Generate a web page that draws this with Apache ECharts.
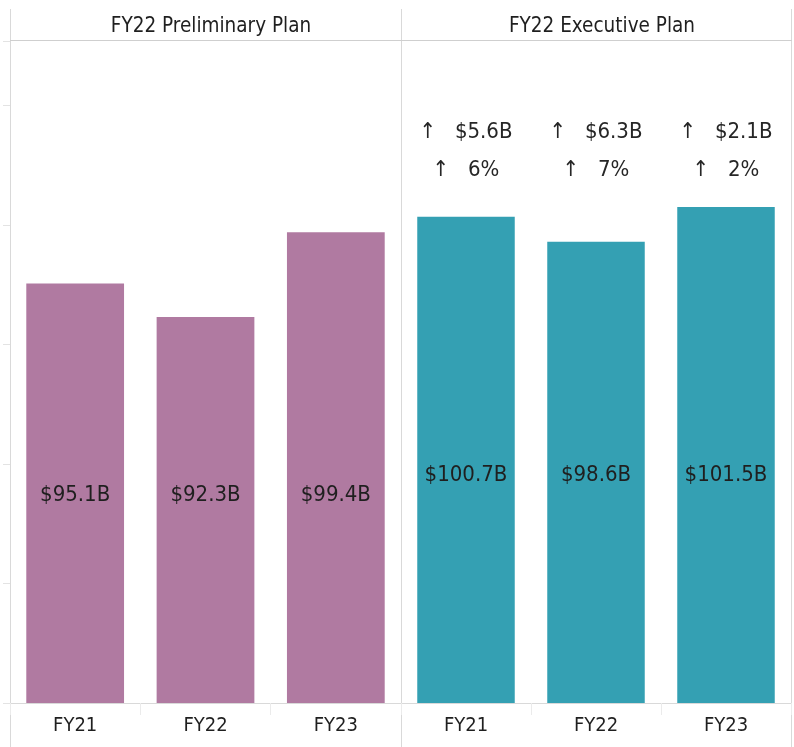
<!DOCTYPE html>
<html>
<head>
<meta charset="utf-8">
<script src="https://cdn.jsdelivr.net/npm/echarts@6/dist/echarts.min.js"></script>
<style>
  body { margin: 0; background: #fff; }
  #chart { width: 794px; height: 747px; }
</style>
</head>
<body>
<div id="chart"></div>
<script>
// data
const categories = ['FY21', 'FY22', 'FY23'];
const prelimValues = [95.1, 92.3, 99.4];
const execValues = [100.7, 98.6, 101.5];
const changeAmt = ['$5.6B', '$6.3B', '$2.1B'];
const changePct = ['6%', '7%', '2%'];
const panelTitles = ['FY22 Preliminary Plan', 'FY22 Executive Plan'];

const FONT = "'Liberation Sans Narrow', 'DejaVu Sans Condensed', sans-serif";
const TEXT = '#1f1f1f';
const LINE = '#d9d9d9';
const Y_MIN = 60, Y_MAX = 115.4, ANNO_LEVEL = 106.2;

let myChart = echarts.init(document.getElementById('chart'));

function xAxisFor(idx) {
    return {
        type: 'category',
        gridIndex: idx,
        data: categories,
        axisLine: { lineStyle: { color: LINE } },
        axisTick: { show: true, length: 12, lineStyle: { color: '#ebebeb' } },
        axisLabel: { color: TEXT, fontFamily: FONT, fontSize: 20, margin: 13 }
    };
}

let option = {
    animation: false,
    title: panelTitles.map((t, i) => ({
        text: t,
        left: i === 0 ? 206 : 597,
        top: 11,
        textAlign: 'center',
        textStyle: { fontFamily: FONT, fontSize: 20.5, fontWeight: 'normal', color: TEXT }
    })),
    grid: [
        { left: 10, right: 393, top: 41, bottom: 44 },
        { left: 401, right: 3, top: 41, bottom: 44 }
    ],
    xAxis: [xAxisFor(0), xAxisFor(1)],
    yAxis: [
        {
            type: 'value', gridIndex: 0, min: Y_MIN, max: Y_MAX, interval: 10,
            axisLine: { show: false },
            axisTick: { show: true, length: 7, lineStyle: { color: '#e3e3e3' } },
            axisLabel: { show: false },
            splitLine: { show: false }
        },
        {
            type: 'value', gridIndex: 1, min: Y_MIN, max: Y_MAX, show: false,
            splitLine: { show: false }
        }
    ],
    series: [
        {
            type: 'bar',
            xAxisIndex: 0, yAxisIndex: 0,
            data: prelimValues,
            barWidth: '75%',
            itemStyle: { color: '#b07aa1' },
            label: {
                show: true, position: 'insideBottom', distance: 197,
                formatter: p => '$' + p.value + 'B',
                fontFamily: FONT, fontSize: 22, color: TEXT
            }
        },
        {
            type: 'bar',
            xAxisIndex: 1, yAxisIndex: 1,
            data: execValues,
            barWidth: '75%',
            itemStyle: { color: '#34a0b3' },
            label: {
                show: true, position: 'insideBottom', distance: 217,
                formatter: p => '$' + p.value + 'B',
                fontFamily: FONT, fontSize: 22, color: TEXT
            }
        },
        {
            type: 'scatter',
            xAxisIndex: 1, yAxisIndex: 1,
            symbolSize: 0,
            silent: true,
            itemStyle: { opacity: 1 },
            data: categories.map(c => [c, ANNO_LEVEL]),
            label: {
                show: true, position: 'inside',
                formatter: p => '\u2191   ' + changeAmt[p.dataIndex] + '\n\u2191   ' + changePct[p.dataIndex],
                fontFamily: FONT, fontSize: 22, lineHeight: 38, color: '#262626', align: 'center'
            }
        }
    ],
    graphic: [
        { type: 'line', shape: { x1: 10.5, y1: 9, x2: 10.5, y2: 747 }, style: { stroke: LINE, lineWidth: 1 } },
        { type: 'line', shape: { x1: 401.5, y1: 9, x2: 401.5, y2: 747 }, style: { stroke: LINE, lineWidth: 1 } },
        { type: 'line', shape: { x1: 791.5, y1: 9, x2: 791.5, y2: 747 }, style: { stroke: LINE, lineWidth: 1 } },
        { type: 'line', shape: { x1: 10, y1: 40.5, x2: 792, y2: 40.5 }, style: { stroke: '#cfcfcf', lineWidth: 1 } }
    ]
};
myChart.setOption(option);
</script>
</body>
</html>
